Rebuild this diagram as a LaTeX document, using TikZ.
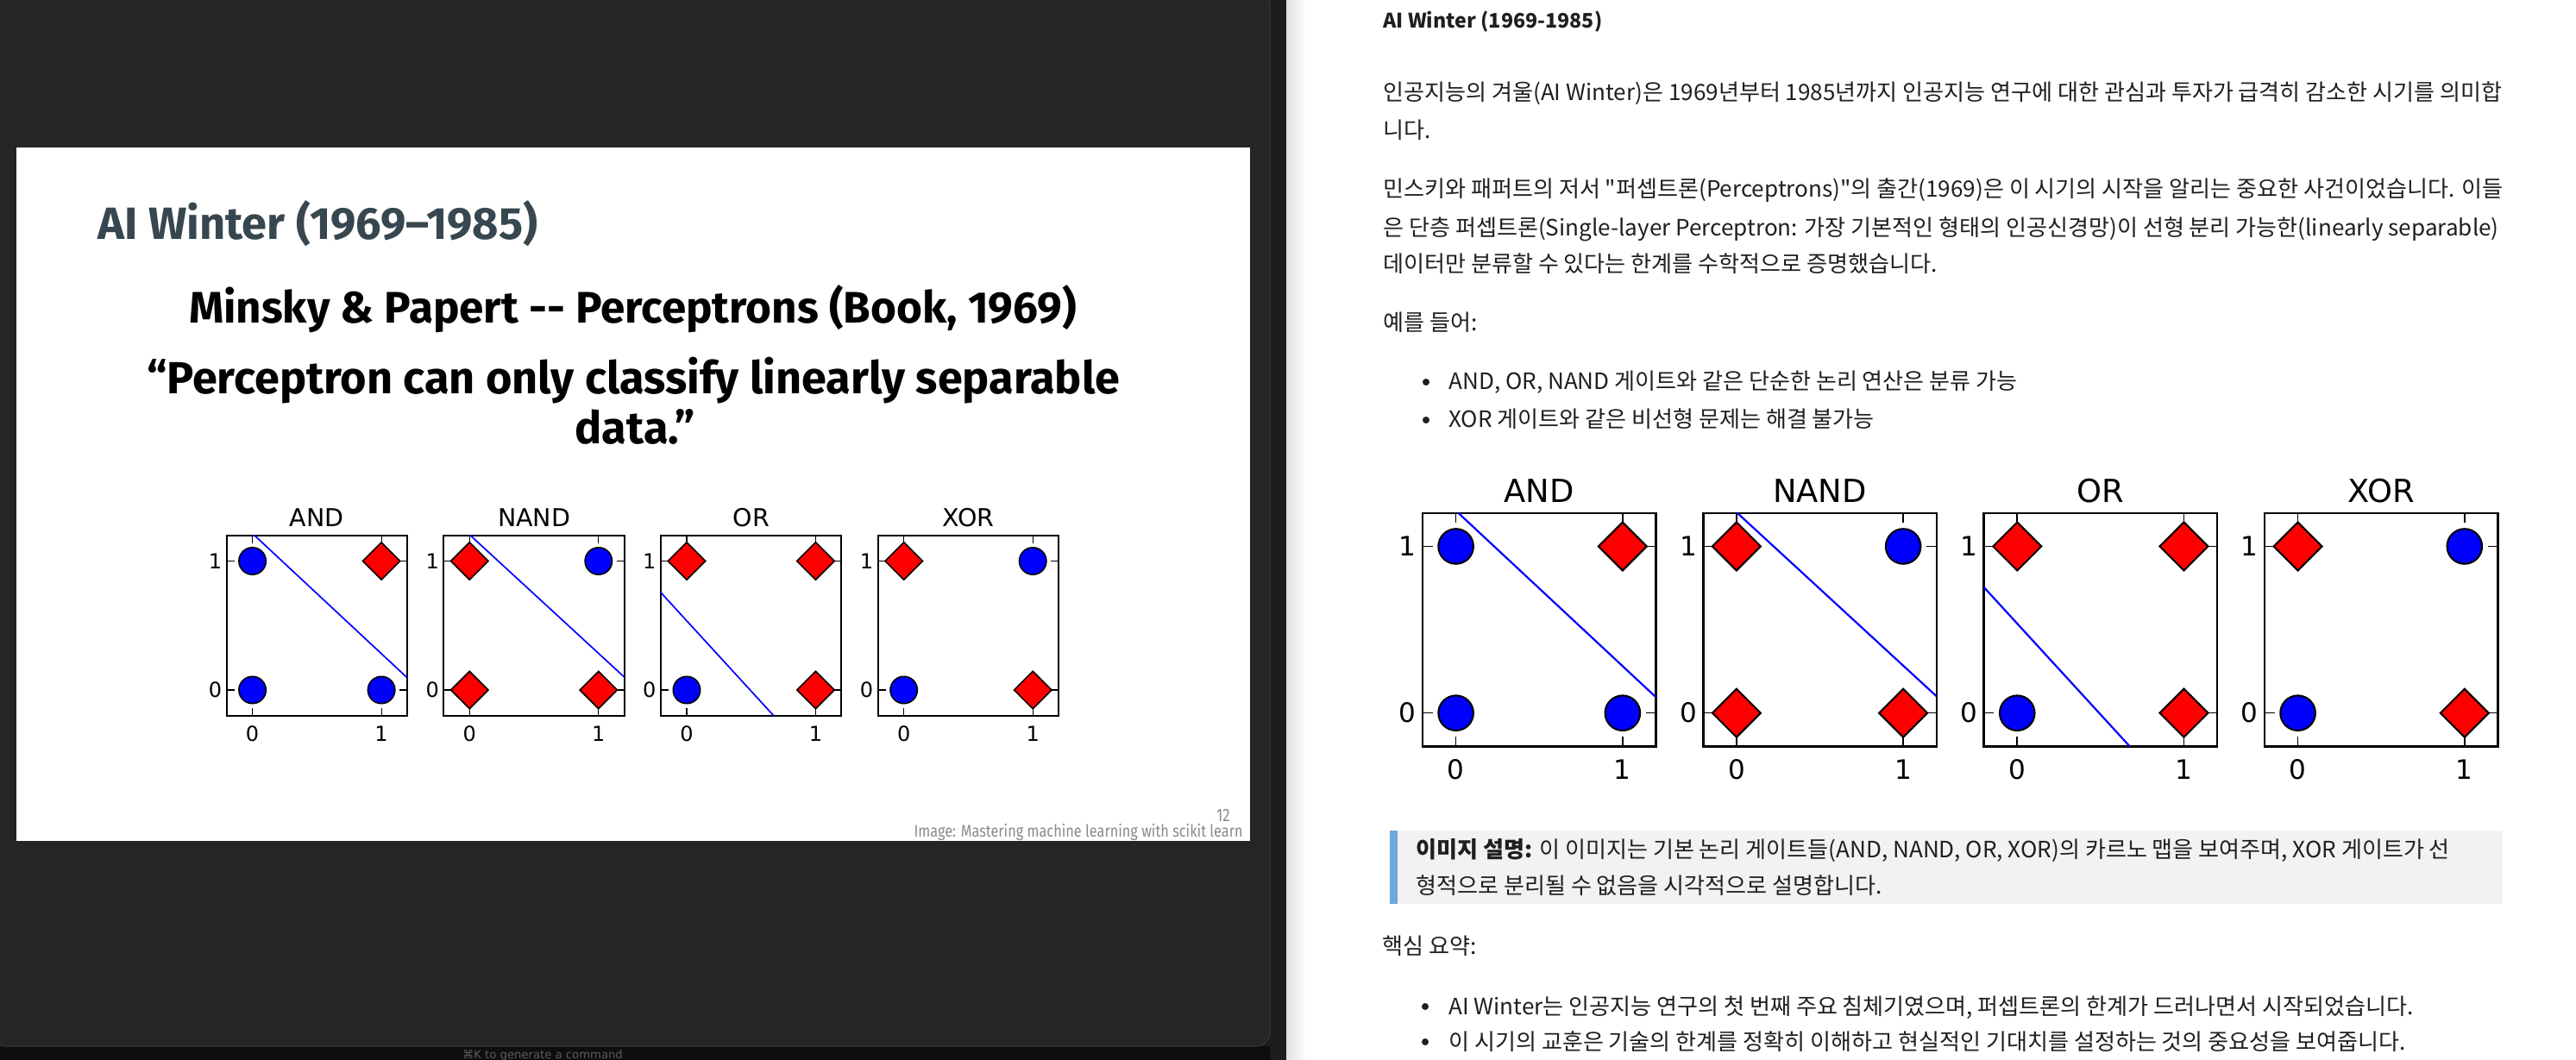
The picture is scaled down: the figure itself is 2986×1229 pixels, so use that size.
\documentclass[tikz,border=0pt]{standalone}
\usepackage{fontspec}
\usepackage{graphicx}
\setmainfont{DejaVu Sans}
\newfontfamily\fira{Fira Sans}
\newfontfamily\dv{DejaVu Sans}
\newfontfamily\kr{Noto Sans CJK KR}[Ligatures=TeXOff]
\definecolor{bgdark}{HTML}{252525}
\definecolor{strip}{HTML}{1C1C1C}
\definecolor{barbot}{HTML}{0E0E0E}
\definecolor{pborder}{HTML}{3A3A3A}
\definecolor{slate}{HTML}{37474F}
\definecolor{capbg}{HTML}{F2F2F2}
\definecolor{capbar}{HTML}{6FA8DC}
\definecolor{foot}{HTML}{8A8A8A}
\definecolor{mblue}{HTML}{0000FF}
\definecolor{mred}{HTML}{FF0000}
\definecolor{ktxt}{HTML}{1F1F1F}
\definecolor{cmdtxt}{HTML}{5C5C5C}
\newlength\tmpw
\newcommand\fitsize[4]{\setbox0=\hbox{#2\fontsize{10pt}{10pt}\selectfont #3}\tmpw=\wd0\relax\pgfmathsetmacro#1{10*#4/\tmpw}}
\AtBeginDocument{%
\fitsize\szA{\fira\bfseries}{AI Winter (1969–1985)}{255}%
\fitsize\szB{\fira\bfseries}{Minsky \& Papert -{}- Perceptrons (Book, 1969)}{514.5}%
\fitsize\szC{\fira\bfseries}{“Perceptron can only classify linearly separable}{564}%
\fitsize\szD{\fira}{Image: Mastering machine learning with scikit learn}{228.6}%
\fitsize\szH{\kr\bfseries}{AI Winter (1969-1985)}{127}%
\fitsize\szK{\kr}{인공지능의 겨울(AI Winter)은 1969년부터 1985년까지 인공지능 연구에 대한 관심과 투자가 급격히 감소한 시기를 의미합}{648.5}%
}
\newcommand\krf{\kr\fontsize{\szK pt}{\szK pt}\selectfont}
\newcommand\lwf{1}
\tikzset{
  gbox/.style={line width=1pt*\lwf},
  gtick/.style={line width=0.6pt*\lwf},
  bline/.style={draw=mblue, line width=0.85pt*\lwf},
  mk/.style={draw=black, line width=0.8pt*\lwf},
  ticklab/.style={inner sep=0pt, font=\dv\fontsize{12pt}{12pt}\selectfont},
  gtitle/.style={inner sep=0pt, anchor=base, font=\dv\fontsize{14.25pt}{14pt}\selectfont},
  ktext/.style={anchor=base west, inner sep=0pt, text=ktxt, font=\krf},
}
\newcommand\mkC[2]{\draw[mk, fill=mblue] (#1,#2) circle (0.105);}
\newcommand\mkD[2]{\draw[mk, fill=mred, line join=miter] (#1,#2) ++(-0.145,0) -- ++(0.145,0.145) -- ++(0.145,-0.145) -- ++(-0.145,-0.145) -- cycle;}
\newcommand\gpanel[7]{%
\begin{scope}[shift={(#2*1.6836,0)}]
  \draw[gbox] (-0.2,-0.2) rectangle (1.2,1.2);
  \foreach \t in {0,1}{
    \draw[gtick] (\t,-0.2) -- (\t,-0.14);
    \draw[gtick] (\t,1.2) -- (\t,1.14);
    \draw[gtick] (-0.2,\t) -- (-0.14,\t);
    \draw[gtick] (1.2,\t) -- (1.14,\t);
  }
  \node[ticklab, anchor=east] (#1#2y1) at (-0.235,1) {1};
  \node[ticklab, anchor=east] (#1#2y0) at (-0.235,0) {0};
  \node[ticklab] (#1#2x0) at (0,-0.338) {0};
  \node[ticklab] (#1#2x1) at (1,-0.338) {1};
  \node[gtitle] (#1#2t) at (0.5,1.266) {#3};
  \csname mk#4\endcsname{0}{0}
  \csname mk#5\endcsname{1}{0}
  \csname mk#6\endcsname{0}{1}
  \csname mk#7\endcsname{1}{1}
\end{scope}}
\newcommand\gates{%
  \gpanel{\pfx}{0}{AND}{C}{C}{C}{D}
  \gpanel{\pfx}{1}{NAND}{D}{D}{D}{C}
  \gpanel{\pfx}{2}{OR}{C}{D}{D}{D}
  \gpanel{\pfx}{3}{XOR}{C}{D}{D}{C}
  \draw[bline] (0.015,1.2) -- (1.2,0.095);
  \draw[bline] ({1.6836+0.005},1.2) -- ({1.6836+1.2},0.1);
  \draw[bline] ({2*1.6836-0.2},0.755) -- ({2*1.6836+0.675},-0.2);
}
\begin{document}
\begin{tikzpicture}[x=0.5pt, y=-0.5pt]
\useasboundingbox (0,0) rectangle (2986,1229);

% backgrounds
\fill[strip] (0,0) rectangle (2986,1229);
\fill[barbot] (0,1213) rectangle (1472,1229);
\draw[fill=bgdark, draw=pborder, line width=0.5pt, rounded corners=8] (-10,-10) rectangle (1472,1213);
\node[inner sep=0pt, anchor=base, text=cmdtxt, font=\dv\fontsize{6.6pt}{7pt}\selectfont] (cmd) at (629,1227) {⌘K to generate a command};
\fill[white] (1491,0) rectangle (2986,1229);
\shade[left color=black!12, right color=white] (1491,0) rectangle (1514,1229);

% slide
\fill[white] (19,171) rectangle (1449,975);
\node[anchor=base west, inner sep=0pt, text=slate, font=\fira\bfseries\fontsize{\szA pt}{\szA pt}\selectfont] (sltitle) at (113,278) {AI Winter (1969–1985)};
\node[anchor=base, inner sep=0pt, text=black, font=\fira\bfseries\fontsize{\szB pt}{\szB pt}\selectfont] (minsky) at (733.5,375) {Minsky \& Papert -{}- Perceptrons (Book, 1969)};
\node[anchor=base, inner sep=0pt, text=black, font=\fira\bfseries\fontsize{\szC pt}{\szC pt}\selectfont] (quote1) at (734,457) {“Perceptron can only classify linearly separable};
\node[anchor=base, inner sep=0pt, text=black, font=\fira\bfseries\fontsize{\szC pt}{\szC pt}\selectfont] (quote2) at (736,515) {data.”};
\node[anchor=base east, inner sep=0pt, text=foot, font=\fira\fontsize{10.5pt}{11pt}\selectfont] (pageno) at (1426,952) {\scalebox{0.8}[1]{12}};
\node[anchor=base east, inner sep=0pt, text=foot, font=\fira\fontsize{\szD pt}{\szD pt}\selectfont] (credit) at (1441,970) {\scalebox{0.8333}[1]{Image: Mastering machine learning with scikit learn}};

% left plot
\begin{scope}[shift={(292.6,800)}, x={(74.75pt,0pt)}, y={(0pt,74.75pt)}]
  \def\lwf{1}\def\pfx{L}
  \gates
\end{scope}

% right plot (same figure, enlarged)
\begin{scope}[shift={(1687.6,826.7)}, x={(74.75pt,0pt)}, y={(0pt,74.75pt)}, scale=1.2925, transform shape]
  \def\lwf{1.29}\def\pfx{R}
  \gates
\end{scope}

% right text
\node[anchor=base west, inner sep=0pt, text=ktxt, font=\kr\bfseries\fontsize{\szH pt}{\szH pt}\selectfont] (rhead) at (1603,33) {AI Winter (1969-1985)};
\node[ktext] (p1a) at (1603,117) {인공지능의 겨울(AI Winter)은 1969년부터 1985년까지 인공지능 연구에 대한 관심과 투자가 급격히 감소한 시기를 의미합};
\node[ktext] (p1b) at (1603,161) {니다.};
\node[ktext] (p2a) at (1603,229) {민스키와 패퍼트의 저서 "퍼셉트론(Perceptrons)"의 출간(1969)은 이 시기의 시작을 알리는 중요한 사건이었습니다. 이들};
\node[ktext] (p2b) at (1603,274) {은 단층 퍼셉트론(Single-layer Perceptron: 가장 기본적인 형태의 인공신경망)이 선형 분리 가능한(linearly separable)};
\node[ktext] (p2c) at (1603,316) {데이터만 분류할 수 있다는 한계를 수학적으로 증명했습니다.};
\node[ktext] (ex) at (1603,384) {예를 들어:};
\fill[ktxt] (1653,443) circle (4);
\fill[ktxt] (1653,487) circle (4);
\node[ktext] (b1) at (1679,452) {AND, OR, NAND 게이트와 같은 단순한 논리 연산은 분류 가능};
\node[ktext] (b2) at (1679,496) {XOR 게이트와 같은 비선형 문제는 해결 불가능};

\fill[capbg] (1611,963) rectangle (2901,1048);
\fill[capbar] (1611,963) rectangle (1620,1048);
\node[ktext] (c1) at (1641,994) {\textbf{이미지 설명:} 이 이미지는 기본 논리 게이트들(AND, NAND, OR, XOR)의 카르노 맵을 보여주며, XOR 게이트가 선};
\node[ktext] (c2) at (1641,1036) {형적으로 분리될 수 없음을 시각적으로 설명합니다.};

\node[ktext] (sum) at (1602,1106) {핵심 요약:};
\fill[ktxt] (1652,1167) circle (4);
\fill[ktxt] (1652,1208) circle (4);
\node[ktext] (s1) at (1679,1176) {AI Winter는 인공지능 연구의 첫 번째 주요 침체기였으며, 퍼셉트론의 한계가 드러나면서 시작되었습니다.};
\node[ktext] (s2) at (1679,1217) {이 시기의 교훈은 기술의 한계를 정확히 이해하고 현실적인 기대치를 설정하는 것의 중요성을 보여줍니다.};
\end{tikzpicture}
\end{document}
